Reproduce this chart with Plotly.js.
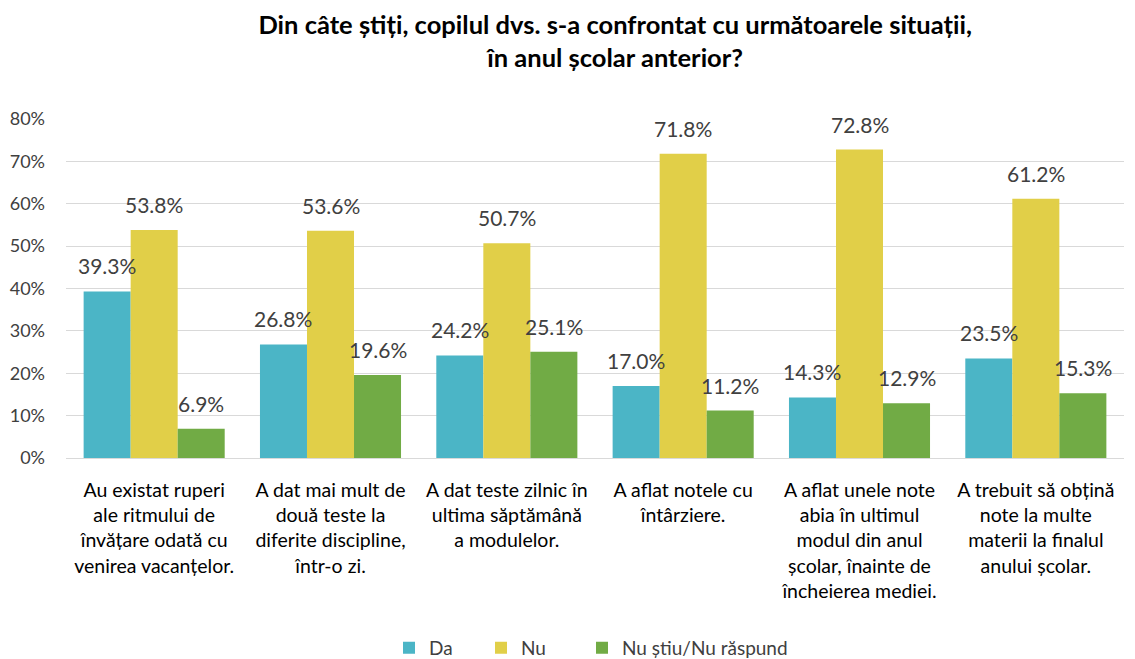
<!DOCTYPE html>
<html>
<head>
<meta charset="utf-8">
<script src="https://cdn.plot.ly/plotly-3.0.1.min.js"></script>
<style>html,body{margin:0;padding:0;background:#fff;}#chart{width:1135px;height:659px;}</style>
</head>
<body>
<div id="chart"></div>
<script>
const categories = [
  "Au existat ruperi<br>ale ritmului de<br>învățare odată cu<br>venirea vacanțelor.",
  "A dat mai mult de<br>două teste la<br>diferite discipline,<br>într-o zi.",
  "A dat teste zilnic în<br>ultima săptămână<br>a modulelor.",
  "A aflat notele cu<br>întârziere.",
  "A aflat unele note<br>abia în ultimul<br>modul din anul<br>școlar, înainte de<br>încheierea mediei.",
  "A trebuit să obțină<br>note la multe<br>materii la finalul<br>anului școlar."
];
const seriesNames = ["Da", "Nu", "Nu știu/Nu răspund"];
const daValues = [39.3, 26.8, 24.2, 17.0, 14.3, 23.5];
const nuValues = [53.8, 53.6, 50.7, 71.8, 72.8, 61.2];
const nsValues = [6.9, 19.6, 25.1, 11.2, 12.9, 15.3];
const colors = ["#4bb5c6", "#e1cf48", "#71ab45"];
const yTicks = [0, 10, 20, 30, 40, 50, 60, 70, 80];

const FONT = "Lato, 'Liberation Sans', sans-serif";
const allValues = [daValues, nuValues, nsValues];
const legendIds = ["legend", "legend2", "legend3"];
const traces = allValues.map((vals, i) => ({
  type: "bar",
  name: seriesNames[i],
  x: categories,
  y: vals,
  marker: {color: colors[i]},
  legend: legendIds[i],
  hoverinfo: "skip"
}));

const W = 1135, H = 659;
const M = {l: 66, r: 11, t: 119, b: 201};
const plotW = W - M.l - M.r;
const catPx = plotW / categories.length;
const barPx = catPx * 0.8 / 3;

const annotations = [];
allValues.forEach((vals, i) => {
  vals.forEach((v, j) => {
    annotations.push({
      x: categories[j], y: v, xref: "x", yref: "y",
      text: v.toFixed(1) + "%",
      showarrow: false, xanchor: "center", yanchor: "bottom",
      xshift: (i - 1) * barPx, yshift: 11,
      font: {family: FONT, size: 21, color: "#404040"}
    });
  });
});

const legendLeftPx = [389, 481, 582];
const legendBase = {
  orientation: "h", xanchor: "left", y: -0.56, yanchor: "middle",
  font: {family: FONT, size: 19, color: "#404040"},
  itemwidth: 30, bgcolor: "rgba(0,0,0,0)"
};

const layout = {
  width: W, height: H,
  margin: Object.assign({autoexpand: false}, M),
  paper_bgcolor: "#fff", plot_bgcolor: "#fff",
  font: {family: FONT, color: "#404040"},
  title: {
    text: "<b>Din câte știți, copilul dvs. s-a confrontat cu următoarele situații,<br>în anul școlar anterior?</b>",
    font: {family: FONT, size: 25.5, color: "#000"},
    x: 0.542, xanchor: "center", yref: "container", y: 0.9487, yanchor: "middle"
  },
  barmode: "group",
  bargap: 0.2,
  bargroupgap: 0,
  xaxis: {
    tickfont: {family: FONT, size: 19.5, color: "#000"},
    showline: false, ticks: "", showgrid: false, ticklabelstandoff: 18
  },
  yaxis: {
    range: [0, 80],
    tickvals: yTicks,
    ticktext: yTicks.map(v => v + "%"),
    tickfont: {family: FONT, size: 18, color: "#404040"},
    gridcolor: "#d9d9d9", gridwidth: 1,
    zeroline: true, zerolinecolor: "#d9d9d9", zerolinewidth: 1,
    showline: false, ticks: "", ticklabelstandoff: 20
  },
  annotations: annotations,
  showlegend: true
};
legendIds.forEach((id, i) => {
  layout[id] = Object.assign({}, legendBase, {x: (legendLeftPx[i] - M.l) / plotW});
});

Plotly.newPlot("chart", traces, layout, {displayModeBar: false, staticPlot: true});
</script>
</body>
</html>
